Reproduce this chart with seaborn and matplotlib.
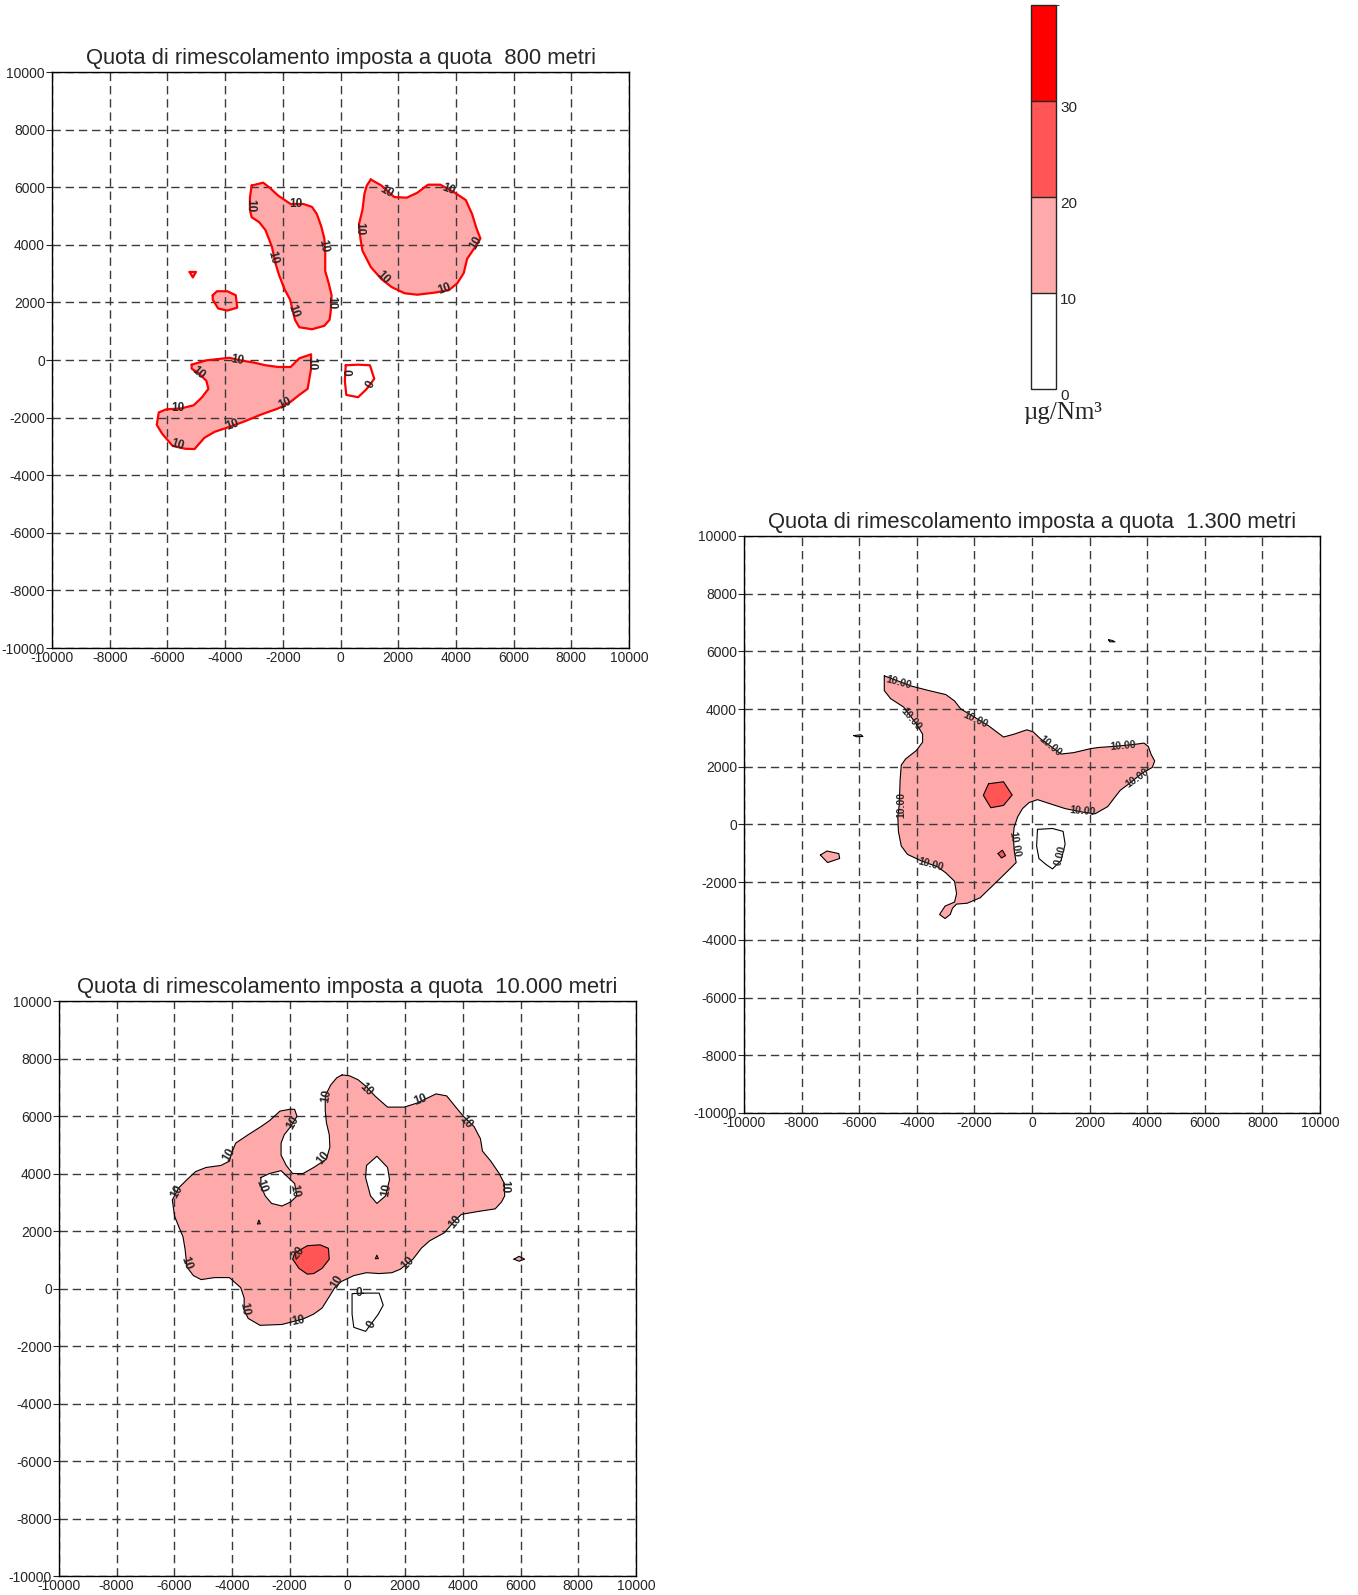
import matplotlib
matplotlib.use("Agg")
import matplotlib.pyplot as plt
import seaborn as sns
from matplotlib.colors import ListedColormap, BoundaryNorm
from matplotlib.cm import ScalarMappable

sns.set_style("ticks")
plt.rcParams["font.family"] = ["Liberation Sans", "DejaVu Sans"]
plt.rcParams["axes.unicode_minus"] = False

# ==========================================
# Data (metri)
# ==========================================
levels = [0, 10, 20, 30, 40]
level_colors = ["#ffffff", "#ffaaaa", "#ff5555", "#ff0000"]
grid_ticks = list(range(-10000, 10001, 2000))

titles = [
    "Quota di rimescolamento imposta a quota  800 metri",
    "Quota di rimescolamento imposta a quota  1.300 metri",
    "Quota di rimescolamento imposta a quota  10.000 metri",
]

# --- quota 800 m ---
q800_west = [(-3080, 6060), (-2680, 6160), (-2460, 5990), (-2160, 5710), (-1730, 5420), (-1290, 5420),
             (-990, 5320), (-820, 5070), (-670, 4650), (-560, 4220), (-530, 3730), (-530, 3090),
             (-410, 2670), (-310, 2250), (-340, 1680), (-380, 1400), (-560, 1190), (-990, 1070),
             (-1430, 1140), (-1580, 1400), (-1680, 1820), (-1750, 2100), (-1940, 2460), (-2130, 2950),
             (-2240, 3310), (-2380, 3940), (-2600, 4510), (-2820, 4790), (-3080, 4960), (-3140, 5210),
             (-3140, 5640)]
q800_east = [(1050, 6270), (1420, 6060), (1860, 5660), (2300, 5640), (2660, 5810), (3030, 6090),
             (3460, 6090), (3900, 5850), (4340, 5560), (4560, 5070), (4710, 4580), (4850, 4220),
             (4630, 3870), (4390, 3520), (4270, 3020), (4050, 2670), (3760, 2430), (3250, 2340),
             (2660, 2270), (2220, 2320), (1780, 2530), (1420, 2810), (1050, 3230), (760, 3800),
             (690, 4220), (640, 4720), (760, 5210), (830, 5780), (910, 6060)]
q800_south = [(-5160, -160), (-4650, -10), (-4210, 40), (-3850, 80), (-3480, -10), (-3040, -80),
              (-2600, -180), (-2160, -240), (-1730, -240), (-1430, 60), (-1020, 200), (-1020, -300),
              (-1140, -1000), (-1430, -1210), (-1730, -1450), (-2160, -1680), (-2750, -1890),
              (-3330, -2130), (-3850, -2320), (-4360, -2490), (-4720, -2700), (-5060, -3090),
              (-5380, -3080), (-5820, -2980), (-6180, -2560), (-6370, -2250), (-6300, -1820),
              (-6040, -1710), (-5530, -1680), (-5090, -1570), (-4800, -1290), (-4580, -1000),
              (-4650, -720), (-4940, -440), (-5160, -300)]
q800_small = [(-4430, 2250), (-4280, 2390), (-3920, 2390), (-3630, 2250), (-3580, 1820), (-3920, 1720),
              (-4240, 1790), (-4430, 2100)]
q800_tiny = [(-5230, 3060), (-5010, 3060), (-5120, 2870)]
q800_zero = [(180, -180), (610, -160), (1020, -180), (1170, -650), (910, -1000), (610, -1290),
             (200, -1210), (150, -720)]
q800_labels = [(-3140, 5380, "10", -90), (-1540, 5420, "10", 0), (-580, 3970, "10", -80),
               (-2340, 3550, "10", -75), (-310, 1990, "10", -90), (-1650, 1680, "10", -70),
               (1610, 5850, "10", -30), (3730, 5920, "10", -20), (640, 4580, "10", -90),
               (4710, 4080, "10", 60), (1490, 2850, "10", -45), (3610, 2460, "10", 20),
               (-3580, -10, "10", -10), (-4940, -440, "10", -40), (-1020, -130, "10", -90),
               (-5630, -1680, "10", 0), (-1940, -1500, "10", 25), (-3740, -2250, "10", 20),
               (-5670, -2950, "10", -15), (180, -410, "0", -90), (1050, -860, "0", 60)]

# --- quota 1.300 m ---
q1300_main = [(-5130, 5150), (-4170, 4790), (-3580, 4640), (-2990, 4500), (-2690, 4280), (-2470, 4000),
              (-2100, 3780), (-1510, 3420), (-990, 3030), (-620, 3130), (-180, 3280), (40, 3210),
              (270, 2990), (1010, 2440), (1450, 2490), (2040, 2630), (2340, 2670), (2780, 2700),
              (3520, 2770), (3890, 2820), (4040, 2700), (4140, 2420), (4260, 2200), (4180, 1980),
              (3810, 1770), (3370, 1410), (3070, 1190), (2850, 910), (2630, 620), (2190, 370),
              (1740, 430), (1150, 550), (710, 690), (190, 860), (-100, 760), (-330, 550), (-500, 260),
              (-620, -100), (-650, -390), (-620, -890), (-550, -1320), (-840, -1610), (-1210, -1970),
              (-1510, -2260), (-1800, -2540), (-2250, -2730), (-2620, -2760), (-2760, -2900),
              (-2840, -3120), (-3020, -3260), (-3210, -3120), (-3020, -2830), (-2690, -2690),
              (-2620, -2400), (-2690, -1970), (-2990, -1680), (-3280, -1470), (-3870, -1250),
              (-4320, -1040), (-4540, -750), (-4640, -240), (-4660, 260), (-4610, 690), (-4580, 1550),
              (-4540, 2060), (-4390, 2270), (-4020, 2560), (-3800, 2850), (-3800, 3130), (-4020, 3490),
              (-4460, 4070), (-4910, 4360), (-5130, 4640), (-5130, 4930)]
q1300_core = [(-1510, 1410), (-990, 1480), (-690, 1020), (-990, 660), (-1430, 580), (-1690, 1010)]
q1300_spot = [(-1180, -1010), (-1030, -890), (-920, -1080), (-1060, -1160)]
q1300_west = [(-7350, -1060), (-7120, -920), (-6710, -1010), (-6680, -1180), (-7100, -1320)]
q1300_sliver_w = [(-6190, 3080), (-5940, 3110), (-5870, 3050), (-6090, 3040)]
q1300_sliver_n = [(2660, 6400), (2780, 6380), (2880, 6330), (2700, 6330)]
q1300_zero = [(190, -170), (710, -140), (1080, -240), (1150, -680), (1010, -1250), (710, -1540),
              (490, -1390), (240, -1180), (160, -750)]
q1300_labels = [(-4640, 4930, "10.00", -15), (-4200, 3640, "10.00", -50), (-1980, 3640, "10.00", -25),
                (640, 2730, "10.00", -40), (3150, 2730, "10.00", 5), (3670, 1620, "10.00", 35),
                (1770, 450, "10.00", -5), (-4540, 690, "10.00", 90), (-620, -680, "10.00", -80),
                (-3530, -1390, "10.00", -15), (980, -1060, "0.00", 75)]

# --- quota 10.000 m ---
q10000_main = [(-190, 7430), (70, 7400), (370, 7260), (660, 7020), (950, 6700), (1390, 6310), (1970, 6310),
               (2410, 6450), (3070, 6770), (3440, 6700), (3730, 6340), (4020, 5990), (4390, 5630),
               (4610, 5210), (4680, 4780), (4970, 4430), (5260, 4000), (5440, 3650), (5450, 3220),
               (5340, 3010), (5120, 2770), (4530, 2680), (3950, 2580), (3730, 2370), (3360, 1940),
               (2850, 1660), (2560, 1400), (2270, 1020), (1830, 670), (1540, 550), (1100, 520),
               (660, 550), (220, 450), (-220, 240), (-440, 30), (-660, -330), (-880, -680),
               (-1170, -890), (-1540, -1060), (-2270, -1250), (-3030, -1280), (-3440, -1040),
               (-3580, -750), (-3580, -330), (-3700, 30), (-4090, 380), (-4610, 380), (-5070, 310),
               (-5340, 450), (-5560, 740), (-5630, 1380), (-5700, 1800), (-5850, 2160), (-5990, 2510),
               (-6070, 3080), (-5850, 3500), (-5560, 3790), (-5260, 4070), (-4900, 4210), (-4390, 4280),
               (-4090, 4430), (-4020, 4710), (-3870, 5060), (-3440, 5350), (-3000, 5630), (-2700, 5840),
               (-2340, 6170), (-1970, 6240), (-1830, 6230), (-1750, 5990), (-1970, 5630), (-2190, 5350),
               (-2300, 5060), (-2300, 4640), (-2120, 4280), (-1900, 4000), (-1540, 4000), (-1170, 4210),
               (-730, 4500), (-610, 4920), (-630, 5350), (-730, 5770), (-770, 6200), (-770, 6700),
               (-580, 7080), (-370, 7330)]
q10000_hole_w = [(-3000, 3860), (-2700, 4000), (-2300, 4100), (-2050, 3860), (-1830, 3650), (-1750, 3220),
                 (-1970, 3010), (-2270, 2870), (-2630, 2960), (-2850, 3220), (-3000, 3570)]
q10000_hole_e = [(660, 4280), (1020, 4600), (1390, 4210), (1460, 3790), (1320, 3220), (1020, 2960),
                 (800, 3220), (630, 3860)]
q10000_core = [(-1830, 1230), (-1390, 1490), (-950, 1520), (-660, 1400), (-630, 1020), (-880, 700),
               (-1170, 520), (-1390, 500), (-1680, 700), (-1900, 1020)]
q10000_dot_w = [(-3120, 2250), (-3020, 2250), (-3070, 2380)]
q10000_dot_e = [(970, 1040), (1070, 1040), (1020, 1160)]
q10000_east = [(5770, 1020), (5950, 1120), (6140, 1020), (5950, 950)]
q10000_zero = [(540, -160), (1100, -160), (1240, -580), (1070, -890), (630, -1490), (220, -1350),
               (160, -890), (160, -180)]
q10000_labels = [(-730, 6700, "10", 80), (660, 6910, "10", -45), (2530, 6550, "10", 20),
                 (4090, 5770, "10", -50), (5440, 3530, "10", -90), (3730, 2300, "10", 50),
                 (2090, 880, "10", 45), (-370, 240, "10", 60), (-1710, -1110, "10", 10),
                 (-3580, -710, "10", -80), (-5600, 880, "10", -70), (-5920, 3360, "10", 60),
                 (-4120, 4640, "10", 60), (-1900, 5770, "10", 60), (-830, 4540, "10", 50),
                 (-3000, 3570, "10", -70), (-1830, 3390, "10", -80), (1360, 3430, "10", 80),
                 (-1680, 1230, "20", 50), (390, -160, "0", 0), (850, -1250, "0", 60)]

# (polygon, fill colour or None)
panels = [
    dict(title=titles[0], pos=[0.0383, 0.5937, 0.4249, 0.3611], line="#ff0000", lw=1.6, fs=8.5,
         shapes=[(q800_west, level_colors[1]), (q800_east, level_colors[1]), (q800_south, level_colors[1]),
                 (q800_small, level_colors[1]), (q800_tiny, level_colors[1]), (q800_zero, None)],
         labels=q800_labels),
    dict(title=titles[1], pos=[0.5479, 0.3022, 0.4241, 0.3618], line="black", lw=0.8, fs=7.5,
         shapes=[(q1300_main, level_colors[1]), (q1300_core, level_colors[2]), (q1300_spot, level_colors[2]),
                 (q1300_west, level_colors[1]), (q1300_sliver_w, level_colors[1]),
                 (q1300_sliver_n, level_colors[1]), (q1300_zero, None)],
         labels=q1300_labels),
    dict(title=titles[2], pos=[0.0434, 0.0119, 0.4249, 0.3605], line="black", lw=0.8, fs=8.5,
         shapes=[(q10000_main, level_colors[1]), (q10000_hole_w, level_colors[0]),
                 (q10000_hole_e, level_colors[0]), (q10000_core, level_colors[2]),
                 (q10000_dot_w, level_colors[1]), (q10000_dot_e, level_colors[1]),
                 (q10000_east, level_colors[1]), (q10000_zero, None)],
         labels=q10000_labels),
]

fig = plt.figure(figsize=(13.58, 15.95), dpi=100)

for p in panels:
    ax = fig.add_axes(p["pos"])
    for poly, fc in p["shapes"]:
        xs = [pt[0] for pt in poly] + [poly[0][0]]
        ys = [pt[1] for pt in poly] + [poly[0][1]]
        if fc is not None:
            ax.fill(xs, ys, color=fc, lw=0, zorder=1)
        sns.lineplot(x=xs, y=ys, sort=False, estimator=None, color=p["line"],
                     lw=p["lw"], ax=ax, zorder=3)
    for lx, ly, txt, rot in p["labels"]:
        ax.text(lx, ly, txt, rotation=rot, rotation_mode="anchor", ha="center", va="center",
                fontsize=p["fs"], fontweight="bold", zorder=4)

    ax.set_xlim(-10000, 10000)
    ax.set_ylim(-10000, 10000)
    ax.set_xticks(grid_ticks)
    ax.set_yticks(grid_ticks)
    ax.set_axisbelow(False)
    ax.grid(True, color="#3a3a3a", lw=1.0, linestyle=(0, (6, 3.5)))
    ax.tick_params(axis="y", direction="out", length=4, width=0.8, labelsize=10, pad=1)
    ax.tick_params(axis="x", direction="out", length=0, labelsize=10, pad=2)
    for s in ax.spines.values():
        s.set_color("black")
        s.set_linewidth(1.0)
        s.set_zorder(5)
    ax.set_xlabel("")
    ax.set_ylabel("")
    ax.set_title(p["title"], fontsize=15.8, pad=6)

# ==========================================
# Scala colori
# ==========================================
cax = fig.add_axes([0.7592, 0.7561, 0.0184, 0.2408])
cmap = ListedColormap(level_colors)
norm = BoundaryNorm(levels, cmap.N)
cb = fig.colorbar(ScalarMappable(norm=norm, cmap=cmap), cax=cax, ticks=levels[:-1], drawedges=True)
cb.outline.set_linewidth(1.0)
cb.dividers.set_linewidth(1.0)
cax.tick_params(length=0, labelsize=11, pad=3)
for t in cax.get_yticklabels():
    t.set_verticalalignment("top")

fig.text(1063 / 1358, 1 - 413 / 1595, "µg/Nm³", ha="center", va="center",
         fontsize=18, family=["Liberation Serif", "DejaVu Serif"])

plt.savefig("out.png", dpi=100)
